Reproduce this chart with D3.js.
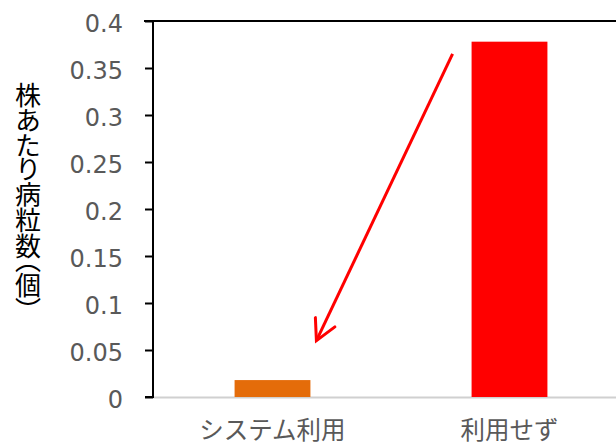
<!DOCTYPE html>
<html><head><meta charset="utf-8">
<script src="https://cdn.jsdelivr.net/npm/d3@7"></script>
<style>html,body{margin:0;padding:0;background:#fff;}svg{display:block;}</style>
</head><body>
<script>
const categories = ["システム利用", "利用せず"];
const values = [0.018, 0.378];
const barColors = ["#E46C0A", "#FF0000"];
const yTicks = [0, 0.05, 0.1, 0.15, 0.2, 0.25, 0.3, 0.35, 0.4];
const yTickLabels = ["0", "0.05", "0.1", "0.15", "0.2", "0.25", "0.3", "0.35", "0.4"];
const yTitle = "株あたり病粒数（個）";

const W = 616, H = 442;
const svg = d3.select("body").append("svg").attr("width", W).attr("height", H);

const y = d3.scaleLinear().domain([0, 0.4]).range([397, 21]);
const x = d3.scaleBand().domain(categories).range([154, 628]).paddingInner(0.68).paddingOuter(0.34);
const axisX = 153;

// bottom grey axis line
svg.append("line").attr("x1", axisX).attr("x2", W).attr("y1", y(0) + 0.5).attr("y2", y(0) + 0.5)
  .attr("stroke", "#d0d0d0").attr("stroke-width", 2);

// top frame line
svg.append("line").attr("x1", 144).attr("x2", W).attr("y1", y(0.4)).attr("y2", y(0.4))
  .attr("stroke", "#000").attr("stroke-width", 2);

// bars
svg.selectAll("rect.bar").data(categories).enter().append("rect")
  .attr("x", d => x(d)).attr("width", x.bandwidth())
  .attr("y", (d, i) => y(values[i])).attr("height", (d, i) => y(0) - y(values[i]))
  .attr("fill", (d, i) => barColors[i]);

// y axis
const yAxis = d3.axisLeft(y).tickValues(yTicks).tickSize(8).tickPadding(22)
  .tickFormat((d, i) => yTickLabels[i]);
const g = svg.append("g").attr("transform", `translate(${axisX},0)`).call(yAxis);
g.select(".domain").attr("stroke", "#000").attr("stroke-width", 2).attr("d", `M-8,${y(0.4)}H0V${y(0)}H-8`);
g.selectAll(".tick line").attr("stroke", "#000").attr("stroke-width", 2);
g.selectAll(".tick text").attr("fill", "#595959").attr("font-size", 24)
  .attr("font-family", "'DejaVu Sans', sans-serif").attr("dy", "0.42em");

// x labels
svg.selectAll("text.xl").data(categories).enter().append("text")
  .attr("x", d => x(d) + x.bandwidth() / 2).attr("y", 439)
  .attr("text-anchor", "middle").attr("fill", "#595959").attr("font-size", 24.5)
  .attr("font-family", "'Noto Sans CJK JP', sans-serif").text(d => d);

// y title vertical
svg.append("text").attr("x", 28).attr("y", 82)
  .style("writing-mode", "vertical-rl")
  .style("font-feature-settings", "'vpal' 1")
  .attr("font-size", 26).attr("fill", "#000")
  .attr("font-family", "'Noto Sans CJK JP', sans-serif").text(yTitle);

// annotation arrow
const sx = x(categories[1]) - 19, sy = y(0.365);
const ex = x(categories[0]) + x.bandwidth() + 6, ey = y(0.06);
svg.append("line").attr("x1", sx).attr("y1", sy).attr("x2", ex).attr("y2", ey)
  .attr("stroke", "#FF0000").attr("stroke-width", 3);
const ang = Math.atan2(sy - ey, sx - ex);
const L = 23, a = 28 * Math.PI / 180;
const p1 = [ex + L * Math.cos(ang - a), ey + L * Math.sin(ang - a)];
const p2 = [ex + L * Math.cos(ang + a), ey + L * Math.sin(ang + a)];
svg.append("path").attr("d", `M${p1[0]},${p1[1]}L${ex},${ey}L${p2[0]},${p2[1]}`)
  .attr("fill", "none").attr("stroke", "#FF0000").attr("stroke-width", 3)
  .attr("stroke-linejoin", "miter").attr("stroke-linecap", "round");
</script>
</body></html>
